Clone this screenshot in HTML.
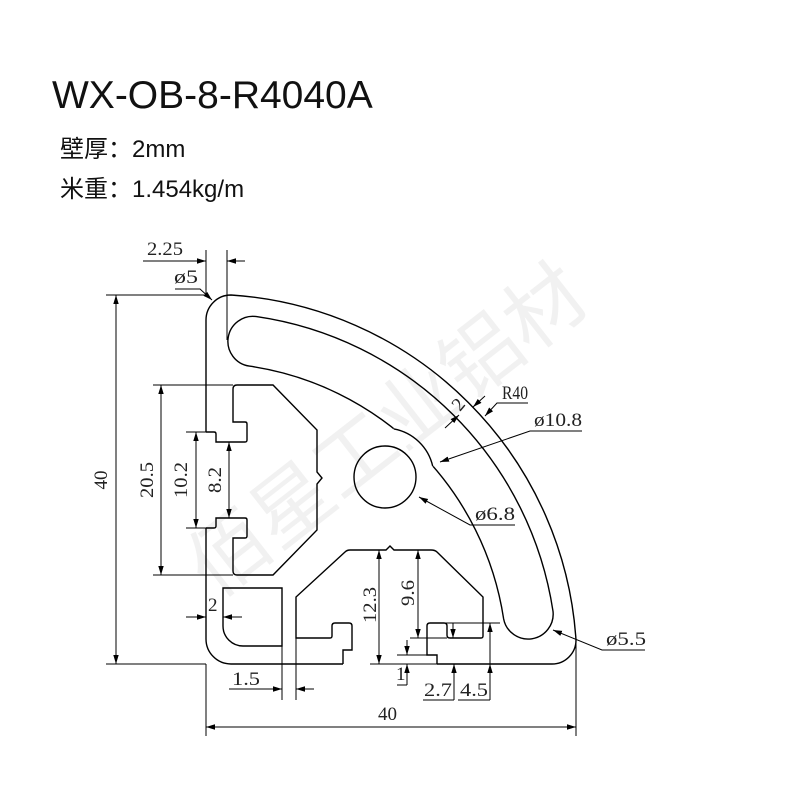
<!DOCTYPE html>
<html><head><meta charset="utf-8"><style>
body{margin:0;background:#fff;width:800px;height:800px;overflow:hidden;}
svg{position:absolute;left:0;top:0}
.d{font-family:"Liberation Serif",serif;font-size:19px;fill:#222}
</style></head><body>
<svg width="800" height="800" viewBox="0 0 800 800">
<defs>
<marker id="a" viewBox="0 0 10 10" refX="10" refY="5" markerWidth="9" markerHeight="9" orient="auto-start-reverse" markerUnits="userSpaceOnUse"><path d="M0,2 L10,5 L0,8 Z" fill="#000"/></marker>
</defs>
<text x="52" y="108" font-family="Liberation Sans,sans-serif" font-size="39" fill="#111">WX-OB-8-R4040A</text>
<text x="60" y="157" font-family="Liberation Sans,'Noto Sans CJK SC',sans-serif" font-size="24" fill="#111">壁厚：2mm</text>
<text x="60" y="197" font-family="Liberation Sans,'Noto Sans CJK SC',sans-serif" font-size="24" fill="#111">米重：1.454kg/m</text>
<text x="215" y="600" transform="rotate(-38 215 600)" font-family="'Noto Sans CJK SC',sans-serif" font-size="80" fill="#000" opacity="0.05">佰星工业铝材</text>
<g fill="none" stroke="#000" stroke-width="1.4">
<path d="M206,432 L206,320 A25,25 0 0 1 231,295 A370,370 0 0 1 576,640 A24,24 0 0 1 552,664 L437,664"/>
<path d="M343,664 L231,664 A25,25 0 0 1 206,639 L206,528"/>
<path d="M256.5,316.6 A351,351 0 0 1 553,611.2 A25,25 0 0 1 503.6,618.7 A301,301 0 0 0 249.3,366.1 A25,25 0 0 1 256.5,316.6 Z"/>
<path d="M393.9,428.9 A49,49 0 0 1 432.7,466.1 A301,301 0 0 0 393.9,428.9 Z" fill="#fff" stroke="#fff" stroke-width="2.2"/>
<path d="M393.9,428.9 A49,49 0 0 1 432.7,466.1"/>
<circle cx="385" cy="477" r="31"/>
<path d="M206,432 L214,432 Q216,432 216,434 L216,442 L245,442 Q247,442 247,440 L247,424 Q247,422 245,422 L233,422 L233,389 Q233,385 237,385 L273,385 L317,430 L317,472 L322,478 L317,484 L317,530 L273,575 L237,575 Q233,575 233,571 L233,538 L245,538 Q247,538 247,536 L247,520 Q247,518 245,518 L216,518 L216,526 Q216,528 214,528 L206,528"/>
<path d="M223,588 L282,588 L282,646 L243,646 A20,20 0 0 1 223,626 Z"/>
<path d="M343,664 L343,650 L352,650 L352,626 Q352,623 349,623 L335,623 Q332,623 332,626 L332,636 Q332,638 330,638 L296,638 L296,597 L345,552 Q347,550 350,550 L386,550 L390,546 L394,550 L431,550 Q435,550 437,552 L483,597 L483,636 Q483,638 481,638 L450,638 Q447,638 447,635 L447,626 Q447,623 444,623 L430,623 Q427,623 427,626 L427,655 L437,655 L437,664"/>
</g>
<g fill="none" stroke="#000" stroke-width="1">
<line x1="206" y1="250" x2="206" y2="295"/><line x1="227" y1="250" x2="227" y2="340"/>
<line x1="143" y1="261" x2="206" y2="261" marker-end="url(#a)"/><line x1="245" y1="261" x2="227" y2="261" marker-end="url(#a)"/>
<polyline points="175,289 200,289 212,300" marker-end="url(#a)"/>
<line x1="106" y1="295" x2="206" y2="295"/><line x1="106" y1="664" x2="206" y2="664"/>
<line x1="116" y1="295" x2="116" y2="664" marker-start="url(#a)" marker-end="url(#a)"/>
<line x1="153" y1="385" x2="233" y2="385"/><line x1="153" y1="575" x2="233" y2="575"/>
<line x1="161" y1="385" x2="161" y2="575" marker-start="url(#a)" marker-end="url(#a)"/>
<line x1="186" y1="432" x2="206" y2="432"/><line x1="186" y1="528" x2="206" y2="528"/>
<line x1="196" y1="432" x2="196" y2="528" marker-start="url(#a)" marker-end="url(#a)"/>
<line x1="229" y1="442" x2="229" y2="518" marker-start="url(#a)" marker-end="url(#a)"/>
<line x1="186" y1="617" x2="206" y2="617" marker-end="url(#a)"/><line x1="242" y1="617" x2="223" y2="617" marker-end="url(#a)"/>
<line x1="282" y1="646" x2="282" y2="700"/><line x1="296" y1="638" x2="296" y2="700"/>
<line x1="229" y1="689" x2="282" y2="689" marker-end="url(#a)"/><line x1="314" y1="689" x2="296" y2="689" marker-end="url(#a)"/>
<line x1="370" y1="664" x2="437" y2="664"/>
<line x1="379" y1="550" x2="379" y2="664" marker-start="url(#a)" marker-end="url(#a)"/>
<line x1="418" y1="550" x2="418" y2="638" marker-start="url(#a)" marker-end="url(#a)"/>
<line x1="410" y1="638" x2="447" y2="638"/>
<line x1="397" y1="655" x2="427" y2="655"/>
<line x1="407" y1="640" x2="407" y2="655" marker-end="url(#a)"/><line x1="407" y1="685" x2="407" y2="664" marker-end="url(#a)"/>
<line x1="397" y1="685" x2="407" y2="685"/>
<line x1="453" y1="623" x2="453" y2="638" marker-end="url(#a)"/>
<line x1="430" y1="623" x2="500" y2="623"/>
<line x1="423" y1="700" x2="454" y2="700"/><line x1="454" y1="700" x2="454" y2="664" marker-end="url(#a)"/>
<line x1="458" y1="700" x2="490" y2="700"/><line x1="490" y1="664" x2="490" y2="623" marker-end="url(#a)"/><line x1="490" y1="700" x2="490" y2="664" marker-end="url(#a)"/>
<line x1="206" y1="664" x2="206" y2="736"/><line x1="576" y1="640" x2="576" y2="736"/>
<line x1="206" y1="727" x2="576" y2="727" marker-start="url(#a)" marker-end="url(#a)"/>
<polyline points="645,650 602,650 553,630" marker-end="url(#a)"/>
<polyline points="515,525 470,525 419,497" marker-end="url(#a)"/>
<polyline points="582,431 530,431 440,462" marker-end="url(#a)"/>
<polyline points="528,403 497,403 485,416" marker-end="url(#a)"/>
<line x1="445" y1="428" x2="459" y2="415" marker-end="url(#a)"/>
<line x1="485" y1="396" x2="473" y2="407" marker-end="url(#a)"/>
</g>
<g class="d">
<text x="147" y="255" textLength="36" lengthAdjust="spacingAndGlyphs">2.25</text>
<text x="174" y="283" textLength="24" lengthAdjust="spacingAndGlyphs">ø5</text>
<text transform="translate(107,480) rotate(-90)" text-anchor="middle">40</text>
<text transform="translate(153,480) rotate(-90)" text-anchor="middle" textLength="36" lengthAdjust="spacingAndGlyphs">20.5</text>
<text transform="translate(187,480) rotate(-90)" text-anchor="middle" textLength="36" lengthAdjust="spacingAndGlyphs">10.2</text>
<text transform="translate(221,480) rotate(-90)" text-anchor="middle" textLength="26" lengthAdjust="spacingAndGlyphs">8.2</text>
<text x="208" y="611">2</text>
<text x="232" y="685" textLength="28" lengthAdjust="spacingAndGlyphs">1.5</text>
<text transform="translate(376,605) rotate(-90)" text-anchor="middle" textLength="36" lengthAdjust="spacingAndGlyphs">12.3</text>
<text transform="translate(414,593) rotate(-90)" text-anchor="middle" textLength="26" lengthAdjust="spacingAndGlyphs">9.6</text>
<text x="396" y="680">1</text>
<text x="424" y="696" textLength="28" lengthAdjust="spacingAndGlyphs">2.7</text>
<text x="460" y="696" textLength="28" lengthAdjust="spacingAndGlyphs">4.5</text>
<text x="378" y="720">40</text>
<text x="606" y="645" textLength="40" lengthAdjust="spacingAndGlyphs">ø5.5</text>
<text x="475" y="520" textLength="40" lengthAdjust="spacingAndGlyphs">ø6.8</text>
<text x="534" y="426" textLength="48" lengthAdjust="spacingAndGlyphs">ø10.8</text>
<text x="502" y="399" textLength="26" lengthAdjust="spacingAndGlyphs">R40</text>
<text transform="translate(460,412) rotate(-50)">2</text>
</g>
</svg>
</body></html>
